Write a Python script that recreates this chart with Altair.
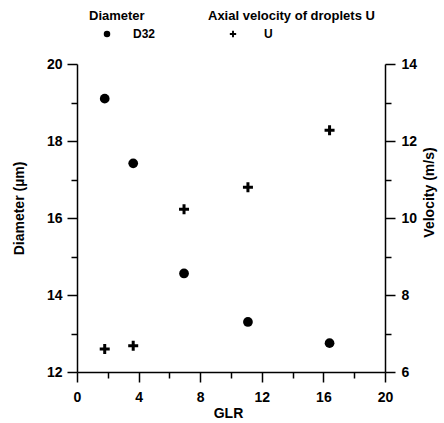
import altair as alt
import pandas as pd

# Data
glr = [1.8, 3.65, 6.95, 11.1, 16.4]
d32 = [19.1, 17.42, 14.56, 13.3, 12.75]
u_vel = [6.6, 6.68, 10.23, 10.8, 12.28]
d_name = ["D32"] * 5
u_name = ["U"] * 5

x_ticks = list(range(0, 21, 2))
d_ticks = list(range(12, 21, 1))
u_ticks = list(range(6, 15, 1))

df = pd.DataFrame({"GLR": glr, "D32": d32, "U": u_vel, "dser": d_name, "user": u_name})

FONT = "Liberation Sans"
PLUS = "M-1,-0.3H1V0.3H-1Z M-0.3,-1H0.3V1H-0.3Z"


def minor_size(step, big, small):
    return {"condition": {"test": f"datum.value % {step} === 0", "value": big}, "value": small}


def make_x_axis():
    return alt.Axis(
        title="GLR", values=x_ticks,
        labelExpr="datum.value % 4 === 0 ? datum.label : ''",
        tickSize=minor_size(4, 10, 6),
        grid=False, labelFlush=False, labelOverlap=False,
        labelFont=FONT, labelFontSize=14, labelFontWeight="bold", labelColor="black",
        labelPadding=8,
        titleFont=FONT, titleFontSize=14, titleFontWeight="bold", titleColor="black",
        titleX=151, titleY=41, titleBaseline="middle",
        domainColor="black", domainWidth=1.5, tickColor="black", tickWidth=1.5,
    )


x_enc = alt.X("GLR:Q", scale=alt.Scale(domain=[0, 20], nice=False, zero=False), axis=make_x_axis())

left = alt.Chart(df).mark_point(filled=True, size=95, color="black", opacity=1).encode(
    x=x_enc,
    y=alt.Y("D32:Q", scale=alt.Scale(domain=[12, 20], nice=False, zero=False),
            axis=alt.Axis(
                title="Diameter (µm)", orient="left", values=d_ticks,
                labelExpr="datum.value % 2 === 0 ? datum.label : ''",
                tickSize=minor_size(2, 10, 6),
                grid=False, labelFlush=False, labelOverlap=False,
                labelFont=FONT, labelFontSize=14, labelFontWeight="bold", labelColor="black",
                labelPadding=5,
                titleFont=FONT, titleFontSize=14, titleFontWeight="bold", titleColor="black",
                titleAngle=270, titleBaseline="middle", titleX=-58, titleY=144,
                domainColor="black", domainWidth=1.5, tickColor="black", tickWidth=1.5,
            )),
    shape=alt.Shape("dser:N", scale=alt.Scale(domain=["D32"], range=["circle"]),
                    legend=alt.Legend(
                        title="Diameter", orient="none", legendX=12, legendY=-54,
                        padding=0, titlePadding=5,
                        titleFont=FONT, titleFontSize=13, titleFontWeight="bold", titleColor="black",
                        labelFont=FONT, labelFontSize=12, labelFontWeight="bold", labelColor="black",
                        symbolOffset=12, labelOffset=20, symbolSize=42,
                        symbolFillColor="black", symbolStrokeColor="black", symbolStrokeWidth=0,
                    )),
)

right = alt.Chart(df).mark_point(filled=True, size=100, color="black", opacity=1).encode(
    x=x_enc,
    y=alt.Y("U:Q", scale=alt.Scale(domain=[6, 14], nice=False, zero=False),
            axis=alt.Axis(
                title="Velocity (m/s)", orient="right", values=u_ticks,
                labelExpr="datum.value % 2 === 0 ? datum.label : ''",
                tickSize=minor_size(2, 10, 6),
                grid=False, labelFlush=False, labelOverlap=False,
                labelFont=FONT, labelFontSize=14, labelFontWeight="bold", labelColor="black",
                labelPadding=6,
                titleFont=FONT, titleFontSize=14, titleFontWeight="bold", titleColor="black",
                titleAngle=270, titleBaseline="middle", titleX=44, titleY=128,
                domainColor="black", domainWidth=1.5, tickColor="black", tickWidth=1.5,
            )),
    shape=alt.Shape("user:N", scale=alt.Scale(domain=["U"], range=[PLUS]),
                    legend=alt.Legend(
                        title="Axial velocity of droplets U", orient="none", legendX=131, legendY=-54,
                        padding=0, titlePadding=5,
                        titleFont=FONT, titleFontSize=13, titleFontWeight="bold", titleColor="black",
                        labelFont=FONT, labelFontSize=12, labelFontWeight="bold", labelColor="black",
                        symbolOffset=19, labelOffset=25, symbolSize=40,
                        symbolFillColor="black", symbolStrokeColor="black", symbolStrokeWidth=0,
                    )),
)

chart = alt.layer(left, right).resolve_scale(
    y="independent", shape="independent"
).resolve_legend(shape="independent").properties(
    width=308, height=308,
    autosize=alt.AutoSizeParams(type="none"),
    padding={"left": 77, "top": 64, "right": 59, "bottom": 51},
    background="white",
).configure_view(stroke=None)

chart.save("out.html", embed_options={"renderer": "svg", "actions": False})
